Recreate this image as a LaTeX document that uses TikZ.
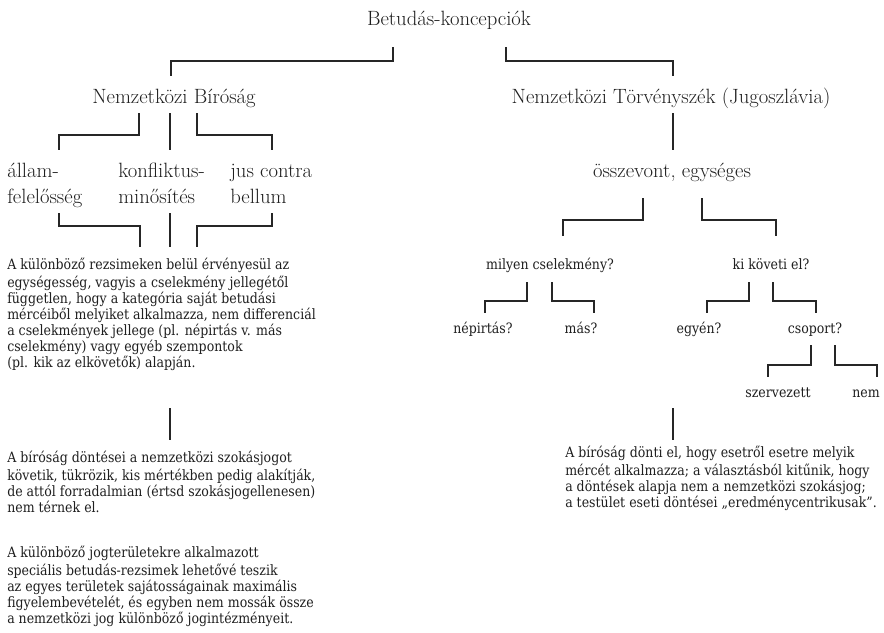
\documentclass[tikz,border=0pt]{standalone}
\usepackage{fontspec}
\setmainfont{Latin Modern Roman}
\newfontfamily\bodyfont[FakeStretch=0.88]{DejaVu Serif}
\tikzset{
  conn/.style={draw=black!85, line width=0.8pt},
  head/.style={font=\fontsize{15.5}{19.5}\selectfont, text=black!88, inner sep=0pt},
  headml/.style={head, align=left, anchor=north west},
  small/.style={font=\bodyfont\fontsize{10.7}{12}\selectfont, text=black!88, inner sep=0pt},
  para/.style={small, align=left, anchor=north west},
}
\begin{document}
\begin{tikzpicture}[x=0.75pt,y=-0.75pt]
\useasboundingbox (0,0) rectangle (884,632);
\fill[white] (0,0) rectangle (884,632);

% --- headings
\node[head, anchor=base] (root) at (449,25) {Betudás-koncepciók};
\node[head, anchor=base] (icj) at (174,103) {Nemzetközi Bíróság};
\node[head, anchor=base] (icty) at (671,103) {Nemzetközi Törvényszék (Jugoszlávia)};

% --- ICJ sub-labels (top = baseline - 0.7*19.5pt)
\node[headml] (allam) at (7,158.8) {\strut állam-\\felelősség};
\node[headml] (konf) at (118,158.8) {\strut konfliktus-\\minősítés};
\node[headml] (jus) at (230,158.8) {\strut jus contra\\bellum};

% --- left paragraphs (top = baseline - 0.7*12pt = baseline - 11.2px)
\node[para] (p1) at (7,257.8) {\strut A különböző rezsimeken belül érvényesül az\\
egységesség, vagyis a cselekmény jellegétől\\
független, hogy a kategória saját betudási\\
mércéiből melyiket alkalmazza, nem differenciál\\
a cselekmények jellege (pl. népirtás v. más\\
cselekmény) vagy egyéb szempontok\\
(pl. kik az elkövetők) alapján.};

\node[para] (p2) at (7,450.8) {\strut A bíróság döntései a nemzetközi szokásjogot\\
követik, tükrözik, kis mértékben pedig alakítják,\\
de attól forradalmian (értsd szokásjogellenesen)\\
nem térnek el.};

\node[para] (p3) at (7,545.8) {\strut A különböző jogterületekre alkalmazott\\
speciális betudás-rezsimek lehetővé teszik\\
az egyes területek sajátosságainak maximális\\
figyelembevételét, és egyben nem mossák össze\\
a nemzetközi jog különböző jogintézményeit.};

% --- right branch
\node[head, anchor=base] (ossz) at (672,177) {összevont, egységes};
\node[small, anchor=base] (milyen) at (550,269) {milyen cselekmény?};
\node[small, anchor=base] (ki) at (771,269) {ki követi el?};
\node[small, anchor=base] (nep) at (483,333) {népirtás?};
\node[small, anchor=base] (mas) at (581,333) {más?};
\node[small, anchor=base] (egyen) at (699,333) {egyén?};
\node[small, anchor=base] (csop) at (815,333) {csoport?};
\node[small, anchor=base] (szerv) at (778,397) {szervezett};
\node[small, anchor=base] (nem) at (866,397) {nem};

\node[para] (pr) at (565,445.8) {\strut A bíróság dönti el, hogy esetről esetre melyik\\
mércét alkalmazza; a választásból kitűnik, hogy\\
a döntések alapja nem a nemzetközi szokásjog;\\
a testület eseti döntései „eredménycentrikusak”.};

% --- connector end points
\coordinate (r1s) at (393,47);  \coordinate (r1e) at (171,76);
\coordinate (r2s) at (506,47);  \coordinate (r2e) at (673,76);
\coordinate (b1s) at (139,113); \coordinate (b1e) at (59,150);
\coordinate (b2s) at (170,113); \coordinate (b2e) at (170,150);
\coordinate (b3s) at (197,113); \coordinate (b3e) at (272,150);
\coordinate (c1s) at (59,213);  \coordinate (c1e) at (140,247);
\coordinate (c2s) at (170,213); \coordinate (c2e) at (170,247);
\coordinate (c3s) at (272,213); \coordinate (c3e) at (197,247);
\coordinate (d1s) at (170,408); \coordinate (d1e) at (170,440);
\coordinate (e1s) at (673,113); \coordinate (e1e) at (673,150);
\coordinate (f1s) at (643,198); \coordinate (f1e) at (563,236);
\coordinate (f2s) at (702,198); \coordinate (f2e) at (776,236);
\coordinate (g1s) at (527,282); \coordinate (g1e) at (485,313);
\coordinate (g2s) at (552,282); \coordinate (g2e) at (594,313);
\coordinate (g3s) at (749,282); \coordinate (g3e) at (707,313);
\coordinate (g4s) at (773,282); \coordinate (g4e) at (816,313);
\coordinate (h1s) at (811,345); \coordinate (h1e) at (768,377);
\coordinate (h2s) at (835,345); \coordinate (h2e) at (877,377);
\coordinate (k1s) at (673,408); \coordinate (k1e) at (673,440);

% --- connectors
\draw[conn] (r1s) -- ++(0,14) -| (r1e);
\draw[conn] (r2s) -- ++(0,14) -| (r2e);
\draw[conn] (b1s) -- ++(0,22) -| (b1e);
\draw[conn] (b2s) -- (b2e);
\draw[conn] (b3s) -- ++(0,22) -| (b3e);
\draw[conn] (c1s) -- ++(0,13) -| (c1e);
\draw[conn] (c2s) -- (c2e);
\draw[conn] (c3s) -- ++(0,13) -| (c3e);
\draw[conn] (d1s) -- (d1e);
\draw[conn] (e1s) -- (e1e);
\draw[conn] (f1s) -- ++(0,22) -| (f1e);
\draw[conn] (f2s) -- ++(0,22) -| (f2e);
\draw[conn] (g1s) -- ++(0,19) -| (g1e);
\draw[conn] (g2s) -- ++(0,19) -| (g2e);
\draw[conn] (g3s) -- ++(0,19) -| (g3e);
\draw[conn] (g4s) -- ++(0,19) -| (g4e);
\draw[conn] (h1s) -- ++(0,20) -| (h1e);
\draw[conn] (h2s) -- ++(0,20) -| (h2e);
\draw[conn] (k1s) -- (k1e);
\end{tikzpicture}
\end{document}
